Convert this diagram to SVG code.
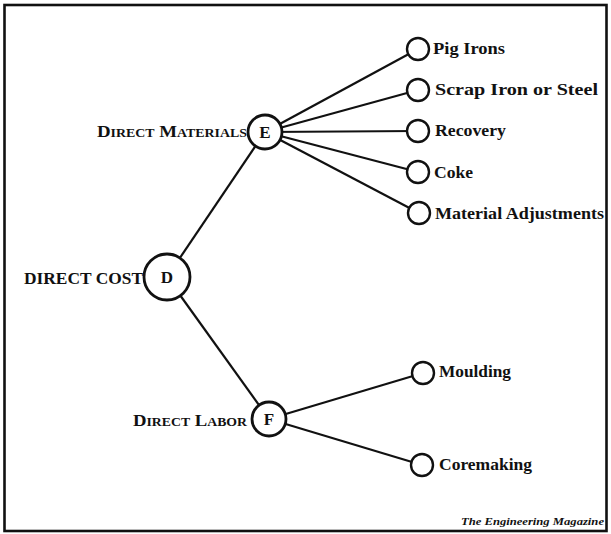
<svg xmlns="http://www.w3.org/2000/svg" width="611" height="534" viewBox="0 0 611 534">
  <style>
    .frame { fill: none; stroke: #111; stroke-width: 2.6; }
    .edge { stroke: #111; stroke-width: 2.2; fill: none; }
    .big { fill: #fff; stroke: #111; stroke-width: 2.8; }
    .leaf { fill: #fff; stroke: #111; stroke-width: 2.4; }
    .lbl { font-family: "Liberation Serif", "DejaVu Serif", serif; font-weight: bold; fill: #111; }
    .item { font-size: 16.5px; }
    .head { font-size: 17px; }
    .sc { font-size: 12.5px; }
    .letter { font-size: 17px; text-anchor: middle; }
    .credit { font-family: "Liberation Serif", serif; font-style: italic; font-weight: bold; font-size: 10px; fill: #111; }
  </style>
  <rect width="611" height="534" fill="#fff"/>
  <rect class="frame" x="4.5" y="5" width="602" height="526"/>

  <g id="connectors">
    <line class="edge" x1="167" y1="277" x2="265" y2="132"/>
    <line class="edge" x1="167" y1="277" x2="269" y2="419"/>
    <line class="edge" x1="265" y1="132" x2="418" y2="49"/>
    <line class="edge" x1="265" y1="132" x2="418" y2="90"/>
    <line class="edge" x1="265" y1="132" x2="418" y2="131"/>
    <line class="edge" x1="265" y1="132" x2="418" y2="172"/>
    <line class="edge" x1="265" y1="132" x2="419" y2="213"/>
    <line class="edge" x1="269" y1="419" x2="423" y2="373"/>
    <line class="edge" x1="269" y1="419" x2="422" y2="465"/>
  </g>

  <g id="node-D">
    <circle class="big" cx="167" cy="277" r="23"/>
    <text class="lbl letter" x="167" y="283">D</text>
    <text class="lbl head" x="24" y="284" textLength="119" lengthAdjust="spacingAndGlyphs">DIRECT COST</text>
  </g>

  <g id="node-E">
    <circle class="big" cx="265" cy="132" r="17"/>
    <text class="lbl letter" x="265" y="138">E</text>
    <text class="lbl head" x="97" y="137" textLength="150" lengthAdjust="spacingAndGlyphs">D<tspan class="sc">IRECT</tspan> M<tspan class="sc">ATERIALS</tspan></text>
  </g>

  <g id="node-F">
    <circle class="big" cx="269" cy="419" r="17"/>
    <text class="lbl letter" x="269" y="425">F</text>
    <text class="lbl head" x="133" y="426" textLength="114" lengthAdjust="spacingAndGlyphs">D<tspan class="sc">IRECT</tspan> L<tspan class="sc">ABOR</tspan></text>
  </g>

  <g id="node-pig-irons">
    <circle class="leaf" cx="418" cy="49" r="11"/>
    <text class="lbl item" x="433" y="54" textLength="72" lengthAdjust="spacingAndGlyphs">Pig Irons</text>
  </g>
  <g id="node-scrap">
    <circle class="leaf" cx="418" cy="90" r="11"/>
    <text class="lbl item" x="435" y="95" textLength="163" lengthAdjust="spacingAndGlyphs">Scrap Iron or Steel</text>
  </g>
  <g id="node-recovery">
    <circle class="leaf" cx="418" cy="131" r="11"/>
    <text class="lbl item" x="435" y="136" textLength="71" lengthAdjust="spacingAndGlyphs">Recovery</text>
  </g>
  <g id="node-coke">
    <circle class="leaf" cx="418" cy="172" r="11"/>
    <text class="lbl item" x="434" y="178" textLength="39" lengthAdjust="spacingAndGlyphs">Coke</text>
  </g>
  <g id="node-material-adjustments">
    <circle class="leaf" cx="419" cy="213" r="11"/>
    <text class="lbl item" x="435" y="219" textLength="169" lengthAdjust="spacingAndGlyphs">Material Adjustments</text>
  </g>
  <g id="node-moulding">
    <circle class="leaf" cx="423" cy="373" r="11"/>
    <text class="lbl item" x="439" y="377" textLength="72" lengthAdjust="spacingAndGlyphs">Moulding</text>
  </g>
  <g id="node-coremaking">
    <circle class="leaf" cx="422" cy="465" r="11"/>
    <text class="lbl item" x="439" y="470" textLength="93" lengthAdjust="spacingAndGlyphs">Coremaking</text>
  </g>

  <text class="credit" x="461" y="525" textLength="143" lengthAdjust="spacingAndGlyphs">The Engineering Magazine</text>
</svg>
